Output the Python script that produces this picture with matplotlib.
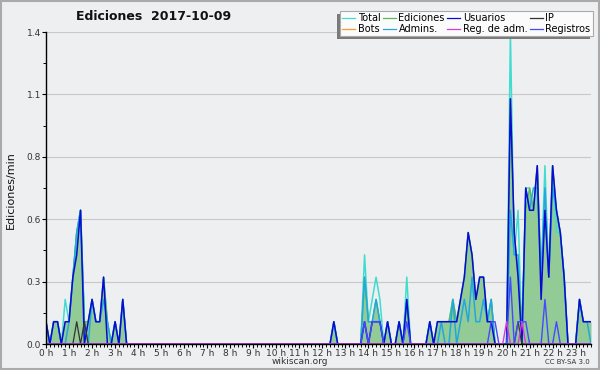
import matplotlib
matplotlib.use('Agg')
import matplotlib.pyplot as plt
import matplotlib.patches as mpatches
import matplotlib.ticker as ticker
import numpy as np

# edits per 10 minute slot, 00:00 .. 23:40 (each row = 4 hours)
total = [
    1, 0, 1, 1, 0, 2, 1, 3, 5, 6, 1, 1, 2, 1, 1, 3, 1, 0, 1, 0, 2, 0, 0, 0,
    0, 0, 0, 0, 0, 0, 0, 0, 0, 0, 0, 0, 0, 0, 0, 0, 0, 0, 0, 0, 0, 0, 0, 0,
    0, 0, 0, 0, 0, 0, 0, 0, 0, 0, 0, 0, 0, 0, 0, 0, 0, 0, 0, 0, 0, 0, 0, 0,
    0, 0, 0, 1, 0, 0, 0, 0, 0, 0, 0, 4, 1, 2, 3, 2, 0, 1, 0, 0, 1, 0, 3, 0,
    0, 0, 0, 0, 1, 0, 1, 1, 1, 1, 2, 1, 2, 3, 5, 4, 2, 3, 3, 1, 2, 0, 0, 0,
    0, 14, 4, 6, 0, 7, 7, 6, 8, 3, 8, 3, 8, 5, 5, 3, 0, 0, 0, 2, 1, 1, 1,
]
edits = [
    1, 0, 1, 1, 0, 1, 1, 3, 5, 6, 1, 1, 2, 1, 1, 3, 1, 0, 1, 0, 2, 0, 0, 0,
    0, 0, 0, 0, 0, 0, 0, 0, 0, 0, 0, 0, 0, 0, 0, 0, 0, 0, 0, 0, 0, 0, 0, 0,
    0, 0, 0, 0, 0, 0, 0, 0, 0, 0, 0, 0, 0, 0, 0, 0, 0, 0, 0, 0, 0, 0, 0, 0,
    0, 0, 0, 1, 0, 0, 0, 0, 0, 0, 0, 3, 1, 1, 2, 1, 0, 1, 0, 0, 1, 0, 2, 0,
    0, 0, 0, 0, 1, 0, 1, 1, 1, 1, 2, 1, 2, 3, 5, 4, 2, 3, 3, 1, 2, 0, 0, 0,
    0, 11, 5, 3, 1, 6, 7, 6, 8, 3, 6, 3, 8, 6, 5, 3, 0, 0, 0, 2, 1, 1, 1,
]
users = [
    1, 0, 1, 1, 0, 1, 1, 3, 4, 6, 0, 1, 2, 1, 1, 3, 0, 0, 1, 0, 2, 0, 0, 0,
    0, 0, 0, 0, 0, 0, 0, 0, 0, 0, 0, 0, 0, 0, 0, 0, 0, 0, 0, 0, 0, 0, 0, 0,
    0, 0, 0, 0, 0, 0, 0, 0, 0, 0, 0, 0, 0, 0, 0, 0, 0, 0, 0, 0, 0, 0, 0, 0,
    0, 0, 0, 1, 0, 0, 0, 0, 0, 0, 0, 1, 0, 1, 1, 1, 0, 1, 0, 0, 1, 0, 2, 0,
    0, 0, 0, 0, 1, 0, 1, 1, 1, 1, 1, 1, 2, 3, 5, 4, 2, 3, 3, 1, 1, 0, 0, 0,
    0, 11, 5, 3, 0, 7, 6, 6, 8, 2, 6, 3, 8, 6, 5, 3, 0, 0, 0, 2, 1, 1, 1,
]
admins = [
    1, 0, 1, 1, 0, 0, 1, 3, 5, 6, 1, 0, 2, 1, 1, 2, 1, 0, 1, 0, 2, 0, 0, 0,
    0, 0, 0, 0, 0, 0, 0, 0, 0, 0, 0, 0, 0, 0, 0, 0, 0, 0, 0, 0, 0, 0, 0, 0,
    0, 0, 0, 0, 0, 0, 0, 0, 0, 0, 0, 0, 0, 0, 0, 0, 0, 0, 0, 0, 0, 0, 0, 0,
    0, 0, 0, 1, 0, 0, 0, 0, 0, 0, 0, 3, 1, 1, 2, 1, 0, 1, 0, 0, 1, 0, 2, 0,
    0, 0, 0, 0, 1, 0, 0, 1, 0, 0, 2, 0, 1, 2, 1, 3, 1, 1, 2, 1, 2, 0, 0, 0,
    0, 6, 4, 4, 0, 7, 6, 7, 7, 3, 7, 3, 7, 6, 5, 3, 0, 0, 0, 2, 1, 1, 0,
]
ip = [
    0, 0, 0, 0, 0, 0, 0, 0, 1, 0, 1, 0, 0, 0, 0, 0, 0, 0, 0, 0, 0, 0, 0, 0,
    0, 0, 0, 0, 0, 0, 0, 0, 0, 0, 0, 0, 0, 0, 0, 0, 0, 0, 0, 0, 0, 0, 0, 0,
    0, 0, 0, 0, 0, 0, 0, 0, 0, 0, 0, 0, 0, 0, 0, 0, 0, 0, 0, 0, 0, 0, 0, 0,
    0, 0, 0, 0, 0, 0, 0, 0, 0, 0, 0, 0, 0, 0, 0, 0, 0, 0, 0, 0, 0, 0, 0, 0,
    0, 0, 0, 0, 0, 0, 0, 0, 0, 0, 0, 0, 0, 0, 0, 0, 0, 0, 0, 0, 0, 0, 0, 0,
    0, 0, 0, 1, 0, 0, 0, 0, 0, 0, 0, 0, 0, 0, 0, 0, 0, 0, 0, 0, 0, 0, 0,
]
logs = [
    0, 0, 0, 0, 0, 0, 0, 0, 0, 0, 0, 0, 0, 0, 0, 0, 0, 0, 0, 0, 0, 0, 0, 0,
    0, 0, 0, 0, 0, 0, 0, 0, 0, 0, 0, 0, 0, 0, 0, 0, 0, 0, 0, 0, 0, 0, 0, 0,
    0, 0, 0, 0, 0, 0, 0, 0, 0, 0, 0, 0, 0, 0, 0, 0, 0, 0, 0, 0, 0, 0, 0, 0,
    0, 0, 0, 0, 0, 0, 0, 0, 0, 0, 0, 1, 0, 1, 1, 1, 0, 0, 0, 0, 0, 0, 1, 0,
    0, 0, 0, 0, 0, 0, 0, 0, 0, 0, 0, 0, 0, 0, 0, 0, 0, 0, 0, 0, 1, 1, 0, 0,
    0, 3, 0, 1, 1, 1, 0, 0, 0, 0, 2, 0, 0, 1, 0, 0, 0, 0, 0, 0, 0, 0, 0,
]
admin_logs = [
    0, 0, 0, 0, 0, 0, 0, 0, 0, 0, 0, 0, 0, 0, 0, 0, 0, 0, 0, 0, 0, 0, 0, 0,
    0, 0, 0, 0, 0, 0, 0, 0, 0, 0, 0, 0, 0, 0, 0, 0, 0, 0, 0, 0, 0, 0, 0, 0,
    0, 0, 0, 0, 0, 0, 0, 0, 0, 0, 0, 0, 0, 0, 0, 0, 0, 0, 0, 0, 0, 0, 0, 0,
    0, 0, 0, 0, 0, 0, 0, 0, 0, 0, 0, 0, 0, 0, 0, 0, 0, 0, 0, 0, 0, 0, 0, 0,
    0, 0, 0, 0, 0, 0, 0, 0, 0, 0, 0, 0, 0, 0, 0, 0, 0, 0, 0, 0, 0, 0, 0, 0,
    1, 0, 0, 0, 1, 0, 0, 0, 0, 0, 0, 0, 0, 0, 0, 0, 0, 0, 0, 0, 0, 0, 0,
]
bots = [0] * 143

hour_labels = ['%d h' % h for h in range(24)]
y_ticks = [0.0, 0.28, 0.56, 0.84, 1.12, 1.4]
y_labels = ['0.0', '0.3', '0.6', '0.8', '1.1', '1.4']

BG = '#eeeff1'
W, H = 600, 370


def per_minute(counts):
    # 10 minute buckets -> edits / min
    return np.array(counts, dtype=float) / 10.0


fig = plt.figure(figsize=(W / 100, H / 100), dpi=100, facecolor=BG)
ax = fig.add_axes([46 / W, 1 - 344 / H, 545 / W, 312 / H])
ax.set_facecolor(BG)

x = np.arange(len(total)) / 6.0

# green area first, lines on top
ax.fill_between(x, 0, per_minute(edits), color='#92cb96', lw=0, zorder=1)

h_total, = ax.plot(x, per_minute(total), color='#40dccf', lw=1.1, label='Total', zorder=2)
h_edits, = ax.plot(x, per_minute(edits), color='#5cb85c', lw=1.0, label='Ediciones', zorder=2)
h_bots, = ax.plot(x, per_minute(bots), color='#f0a030', lw=1.0, label='Bots', zorder=2)
h_admins, = ax.plot(x, per_minute(admins), color='#22a8dc', lw=1.1, label='Admins.', zorder=2)
h_users, = ax.plot(x, per_minute(users), color='#0a0ad2', lw=1.1, label='Usuarios', zorder=2)
h_ip, = ax.plot(x, per_minute(ip), color='#333333', lw=0.9, label='IP', zorder=2)
h_logs, = ax.plot(x, per_minute(logs), color='#4848ff', lw=1.0, label='Registros', zorder=2)
h_alogs, = ax.plot(x, per_minute(admin_logs), color='#d040d8', lw=1.0, label='Reg. de adm.', zorder=2)

ax.set_xlim(0, (len(total) - 1) / 6.0)
ax.set_ylim(0, 1.4)

# axes look
for side in ['top', 'right']:
    ax.spines[side].set_visible(False)
for side in ['left', 'bottom']:
    ax.spines[side].set_linewidth(1.0)
    ax.spines[side].set_zorder(5)

ax.set_yticks(y_ticks)
ax.set_yticklabels(y_labels)
ax.yaxis.set_minor_locator(ticker.MultipleLocator(0.14))
ax.set_xticks(range(24))
ax.set_xticklabels(hour_labels)
ax.xaxis.set_minor_locator(ticker.MultipleLocator(1 / 6.0))

ax.tick_params(axis='both', which='major', direction='out', length=3, width=0.8,
               labelsize=6.5, labelcolor='#333333', pad=0.5)
ax.tick_params(axis='both', which='minor', direction='out', length=2, width=0.7)
ax.grid(axis='y', which='major', color='#c8c8c8', lw=0.8, zorder=0)
ax.set_axisbelow(True)

# texts
fig.text(154 / W, 1 - 17 / H, 'Ediciones  2017-10-09', ha='center', va='center',
         fontsize=9, fontweight='bold', color='#111111')
fig.text(11 / W, 1 - 190 / H, 'Ediciones/min', rotation=90, ha='center', va='center',
         fontsize=8, color='#111111')
fig.text(300 / W, 1 - 362 / H, 'wikiscan.org', ha='center', va='center',
         fontsize=6.5, color='#333333')
fig.text(590 / W, 1 - 362 / H, 'CC BY-SA 3.0', ha='right', va='center',
         fontsize=5, color='#333333')

# legend, filled column by column
handles = [h_total, h_bots, h_edits, h_admins, h_users, h_alogs, h_ip, h_logs]
leg = fig.legend(handles=handles, ncol=4, loc='upper right',
                 bbox_to_anchor=(593 / W, 1 - 11 / H), fontsize=7,
                 frameon=True, fancybox=False, framealpha=1.0,
                 handlelength=1.3, handletextpad=0.3, columnspacing=0.25,
                 labelspacing=0.05, borderpad=0.25, borderaxespad=0)
leg.set_zorder(5)
leg.get_frame().set_facecolor('#fbfbfb')
leg.get_frame().set_edgecolor('#aaaaaa')
leg.get_frame().set_linewidth(0.8)
for line in leg.get_lines():
    line.set_linewidth(0.9)

# hand made shadow: left and below the legend box
fig.canvas.draw()
bb = leg.get_window_extent()
fig.patches.append(mpatches.Rectangle(((bb.x0 - 3) / W, (bb.y0 - 3) / H), bb.width / W, bb.height / H,
                                      transform=fig.transFigure, facecolor='#7a7a7a',
                                      edgecolor='none', zorder=1))

# outer border
fig.patches.append(mpatches.Rectangle((0.002, 0.003), 0.996, 0.994, transform=fig.transFigure,
                                      fill=False, edgecolor='#aaaaaa', lw=1.5, zorder=6))

plt.savefig('out.png', dpi=100, facecolor=BG)
